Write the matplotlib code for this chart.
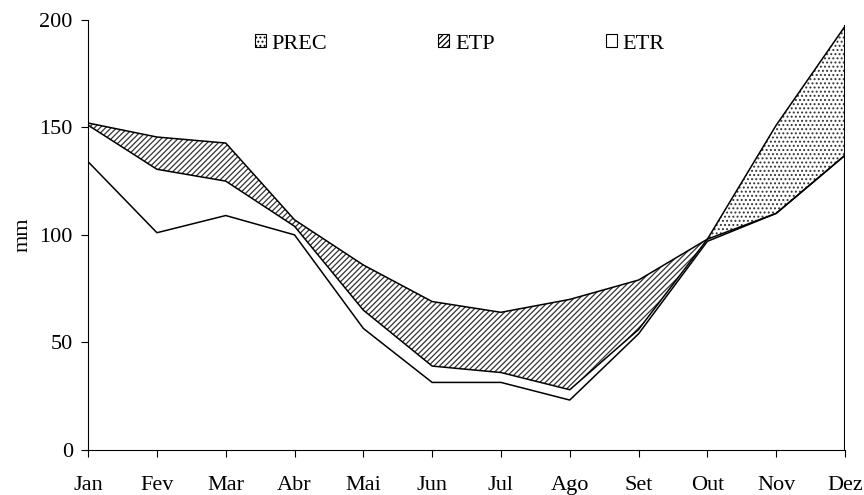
import numpy as np
import matplotlib
matplotlib.use('Agg')
import matplotlib.pyplot as plt
from matplotlib.patches import Patch

plt.rc('font', family='Liberation Serif', size=16)
plt.rc('hatch', linewidth=0.9)

meses = ['Jan', 'Fev', 'Mar', 'Abr', 'Mai', 'Jun', 'Jul', 'Ago', 'Set', 'Out', 'Nov', 'Dez']
etp = [152, 145.5, 142.7, 107, 86, 69, 64, 70, 79, 98, 110, 137]
prec = [151, 130.5, 125, 104, 65, 39, 36, 28, 56, 98, 151, 197]
etr = [134, 101, 109, 100, 56.5, 31.4, 31.4, 23.2, 54, 97, 110, 137]

x = np.arange(len(meses))
etp_a = np.array(etp)
prec_a = np.array(prec)

fig = plt.figure(figsize=(8.64, 4.95), dpi=100)
ax = fig.add_axes([0.102, 0.091, 0.876, 0.869])

# deficit (ETP > PREC) hatched, surplus (PREC > ETP) dotted
ax.fill_between(x, prec_a, etp_a, where=etp_a >= prec_a, interpolate=True,
                facecolor='white', edgecolor='#333333', hatch='//////', linewidth=0)
ax.fill_between(x, etp_a, prec_a, where=prec_a >= etp_a, interpolate=True,
                facecolor='white', edgecolor='#333333', hatch='....', linewidth=0)

ax.plot(x, etp, color='black', lw=1.1)
ax.plot(x, prec, color='black', lw=1.1)
ax.plot(x, etr, color='black', lw=1.1)
ax.plot([x[-1], x[-1]], [0, max(prec[-1], etp[-1])], color='black', lw=1.5)

ax.set_xlim(0, 11)
ax.set_ylim(0, 200)
ax.set_xticks(x)
ax.set_xticklabels(meses)
ax.set_yticks([0, 50, 100, 150, 200])
ax.tick_params(axis='x', direction='out', length=5, pad=14)
ax.tick_params(axis='y', direction='out', length=5, pad=6)
ax.spines['top'].set_visible(False)
ax.spines['right'].set_visible(False)
ax.set_ylabel('mm', labelpad=5)

handles = [Patch(facecolor='white', edgecolor='black', hatch='....', lw=0.8, label='PREC'),
           Patch(facecolor='white', edgecolor='black', hatch='//////', lw=0.8, label='ETP'),
           Patch(facecolor='white', edgecolor='black', lw=0.8, label='ETR')]
ax.legend(handles=handles, loc='center', bbox_to_anchor=(0.532, 0.911),
          bbox_transform=fig.transFigure, ncol=3, frameon=False,
          handlelength=0.5, handleheight=0.5, handletextpad=0.25,
          columnspacing=5.0, borderpad=0)

plt.savefig('out.png', dpi=100)
